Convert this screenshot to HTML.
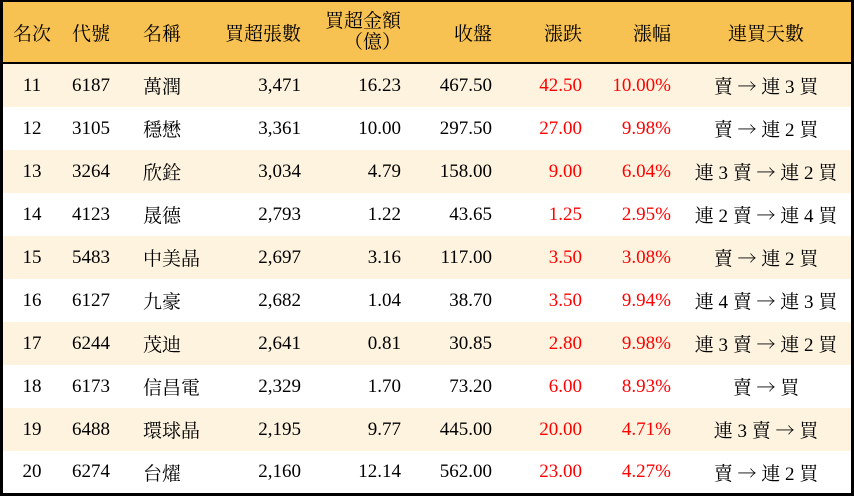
<!DOCTYPE html>
<html><head><meta charset="utf-8">
<style>
html,body{margin:0;padding:0;}
body{width:854px;height:496px;background:#000;position:relative;overflow:hidden;
font-family:"Liberation Serif","Noto Serif CJK SC",serif;font-size:19px;color:#000;}
.hdr{position:absolute;left:3px;top:2px;width:848px;height:60px;background:#F8C252;}
.row{position:absolute;left:3px;width:848px;height:43px;background:#fff;}
.row.y{background:#FDF3DF;}
.c{position:absolute;top:0;height:100%;display:flex;align-items:center;white-space:pre;}
.c1{left:-1px;width:60px;justify-content:center;}
.c2{left:58px;width:60px;justify-content:center;}
.c3{left:140px;width:80px;justify-content:flex-start;}
.c4{left:198px;width:100px;justify-content:flex-end;}
.c5{left:298px;width:100px;justify-content:flex-end;}
.c6{left:389px;width:100px;justify-content:flex-end;}
.c7{left:479px;width:100px;justify-content:flex-end;}
.c8{left:568px;width:100px;justify-content:flex-end;}
.c9{left:683px;width:160px;justify-content:center;}
.r{color:#FF0000;}
.two{display:block;text-align:right;line-height:21px;}
.a{font-family:"Noto Serif CJK SC","Noto Sans CJK SC",serif;}
</style></head><body>
<div class="hdr">
<div class="c c1">名次</div>
<div class="c c2">代號</div>
<div class="c c3">名稱</div>
<div class="c c4">買超張數</div>
<div class="c c5"><div class="two">買超金額<br>（億）</div></div>
<div class="c c6">收盤</div>
<div class="c c7">漲跌</div>
<div class="c c8">漲幅</div>
<div class="c c9">連買天數</div>
</div>

<div class="row y" style="top:64px;height:43px">
<div class="c c1">11</div><div class="c c2">6187</div><div class="c c3">萬潤</div><div class="c c4">3,471</div><div class="c c5">16.23</div><div class="c c6">467.50</div><div class="c c7 r">42.50</div><div class="c c8 r">10.00%</div><div class="c c9">賣 <span class="a">→</span> 連 3 買</div>
</div>
<div class="row" style="top:107px;height:43px">
<div class="c c1">12</div><div class="c c2">3105</div><div class="c c3">穩懋</div><div class="c c4">3,361</div><div class="c c5">10.00</div><div class="c c6">297.50</div><div class="c c7 r">27.00</div><div class="c c8 r">9.98%</div><div class="c c9">賣 <span class="a">→</span> 連 2 買</div>
</div>
<div class="row y" style="top:150px;height:43px">
<div class="c c1">13</div><div class="c c2">3264</div><div class="c c3">欣銓</div><div class="c c4">3,034</div><div class="c c5">4.79</div><div class="c c6">158.00</div><div class="c c7 r">9.00</div><div class="c c8 r">6.04%</div><div class="c c9">連 3 賣 <span class="a">→</span> 連 2 買</div>
</div>
<div class="row" style="top:193px;height:43px">
<div class="c c1">14</div><div class="c c2">4123</div><div class="c c3">晟德</div><div class="c c4">2,793</div><div class="c c5">1.22</div><div class="c c6">43.65</div><div class="c c7 r">1.25</div><div class="c c8 r">2.95%</div><div class="c c9">連 2 賣 <span class="a">→</span> 連 4 買</div>
</div>
<div class="row y" style="top:236px;height:43px">
<div class="c c1">15</div><div class="c c2">5483</div><div class="c c3">中美晶</div><div class="c c4">2,697</div><div class="c c5">3.16</div><div class="c c6">117.00</div><div class="c c7 r">3.50</div><div class="c c8 r">3.08%</div><div class="c c9">賣 <span class="a">→</span> 連 2 買</div>
</div>
<div class="row" style="top:279px;height:43px">
<div class="c c1">16</div><div class="c c2">6127</div><div class="c c3">九豪</div><div class="c c4">2,682</div><div class="c c5">1.04</div><div class="c c6">38.70</div><div class="c c7 r">3.50</div><div class="c c8 r">9.94%</div><div class="c c9">連 4 賣 <span class="a">→</span> 連 3 買</div>
</div>
<div class="row y" style="top:322px;height:43px">
<div class="c c1">17</div><div class="c c2">6244</div><div class="c c3">茂迪</div><div class="c c4">2,641</div><div class="c c5">0.81</div><div class="c c6">30.85</div><div class="c c7 r">2.80</div><div class="c c8 r">9.98%</div><div class="c c9">連 3 賣 <span class="a">→</span> 連 2 買</div>
</div>
<div class="row" style="top:365px;height:43px">
<div class="c c1">18</div><div class="c c2">6173</div><div class="c c3">信昌電</div><div class="c c4">2,329</div><div class="c c5">1.70</div><div class="c c6">73.20</div><div class="c c7 r">6.00</div><div class="c c8 r">8.93%</div><div class="c c9">賣 <span class="a">→</span> 買</div>
</div>
<div class="row y" style="top:408px;height:43px">
<div class="c c1">19</div><div class="c c2">6488</div><div class="c c3">環球晶</div><div class="c c4">2,195</div><div class="c c5">9.77</div><div class="c c6">445.00</div><div class="c c7 r">20.00</div><div class="c c8 r">4.71%</div><div class="c c9">連 3 賣 <span class="a">→</span> 買</div>
</div>
<div class="row" style="top:451px;height:42px">
<div class="c c1">20</div><div class="c c2">6274</div><div class="c c3">台燿</div><div class="c c4">2,160</div><div class="c c5">12.14</div><div class="c c6">562.00</div><div class="c c7 r">23.00</div><div class="c c8 r">4.27%</div><div class="c c9">賣 <span class="a">→</span> 連 2 買</div>
</div>
</body></html>
